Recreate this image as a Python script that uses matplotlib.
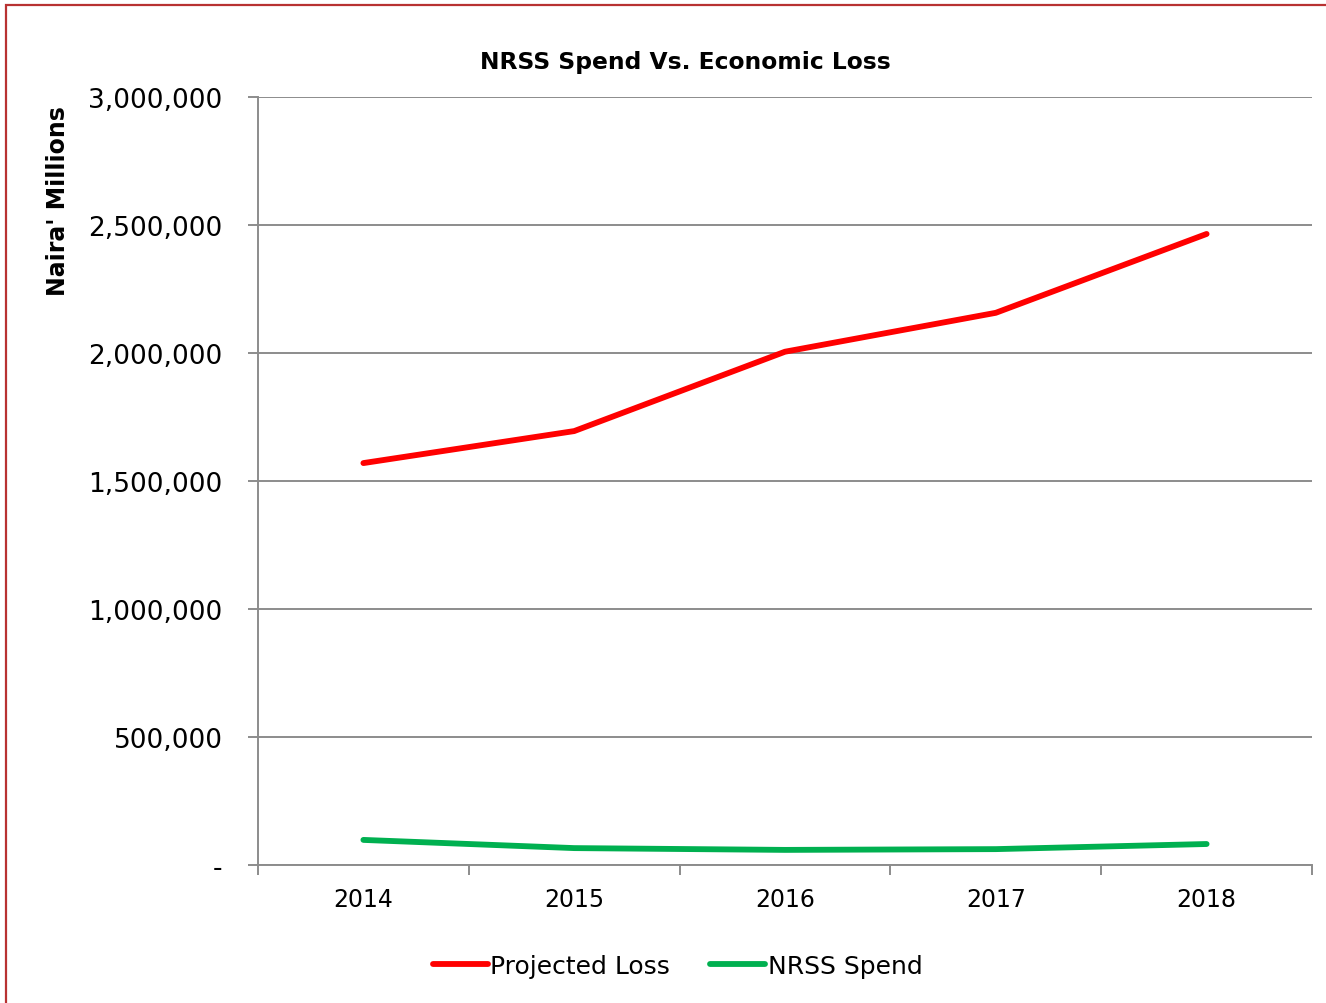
import matplotlib

matplotlib.use("Agg")
import matplotlib.pyplot as plt
from matplotlib.patches import Rectangle
from matplotlib.ticker import FuncFormatter, FixedLocator, NullFormatter

years = ["2014", "2015", "2016", "2017", "2018"]
projected_loss = [1570000, 1695000, 2005000, 2157000, 2465000]
nrss_spend = [98000, 66000, 59000, 62000, 82000]

RED, GREEN = "#ff0000", "#00b050"
GRID = "#8c8c8c"
FRAME = "#b83232"

plt.rcParams.update({"font.family": "DejaVu Sans"})

fig = plt.figure(figsize=(13.26, 10.04), dpi=100)
ax = fig.add_axes([258 / 1326, 1 - 866 / 1004, 1054 / 1326, 768 / 1004])

x = list(range(len(years)))
ax.plot(x, projected_loss, color=RED, lw=4.2, solid_capstyle="round",
        label="Projected Loss")
ax.plot(x, nrss_spend, color=GREEN, lw=4.2, solid_capstyle="round",
        label="NRSS Spend")

ax.set_xlim(-0.5, len(years) - 0.5)
ax.set_ylim(0, 3000000)
ax.set_yticks(range(0, 3000001, 500000))
ax.yaxis.set_major_formatter(
    FuncFormatter(lambda v, _: "-" if v == 0 else f"{int(v):,}"))
ax.grid(axis="y", color=GRID, lw=1.4)
ax.set_axisbelow(True)

# category labels centred, tick marks on the boundaries
ax.xaxis.set_major_locator(FixedLocator([i - 0.5 for i in range(len(years) + 1)]))
ax.xaxis.set_major_formatter(NullFormatter())
ax.xaxis.set_minor_locator(FixedLocator(x))
ax.set_xticklabels(years, minor=True)
ax.tick_params(axis="x", which="major", length=7, width=1.4, color=GRID,
               direction="out")
ax.tick_params(axis="x", which="minor", length=0, pad=16, labelsize=17)
ax.tick_params(axis="y", length=7, width=1.4, color=GRID, direction="out",
               labelsize=19, pad=18.5)

for s in ("top", "right"):
    ax.spines[s].set_visible(False)
for s in ("left", "bottom"):
    ax.spines[s].set_color(GRID)
    ax.spines[s].set_linewidth(1.4)

ax.set_ylabel("Naira' Millions", fontsize=17, fontweight="bold")
ax.yaxis.set_label_coords(-0.178, 0.866)
fig.text(685 / 1326, 1 - 63 / 1004, "NRSS Spend Vs. Economic Loss",
         ha="center", va="center", fontsize=16.8, fontweight="bold")

fig.legend(loc="center", bbox_to_anchor=(0.511, 1 - 967 / 1004), ncol=2,
           frameon=False, fontsize=18, handlelength=2.2, handletextpad=0.1,
           columnspacing=1.6)

fig.patches.append(Rectangle((6 / 1326, -0.05), 1.1, 1 - 6 / 1004 + 0.05,
                             transform=fig.transFigure, fill=False,
                             edgecolor=FRAME, lw=1.6))

fig.savefig("out.png", dpi=100)
